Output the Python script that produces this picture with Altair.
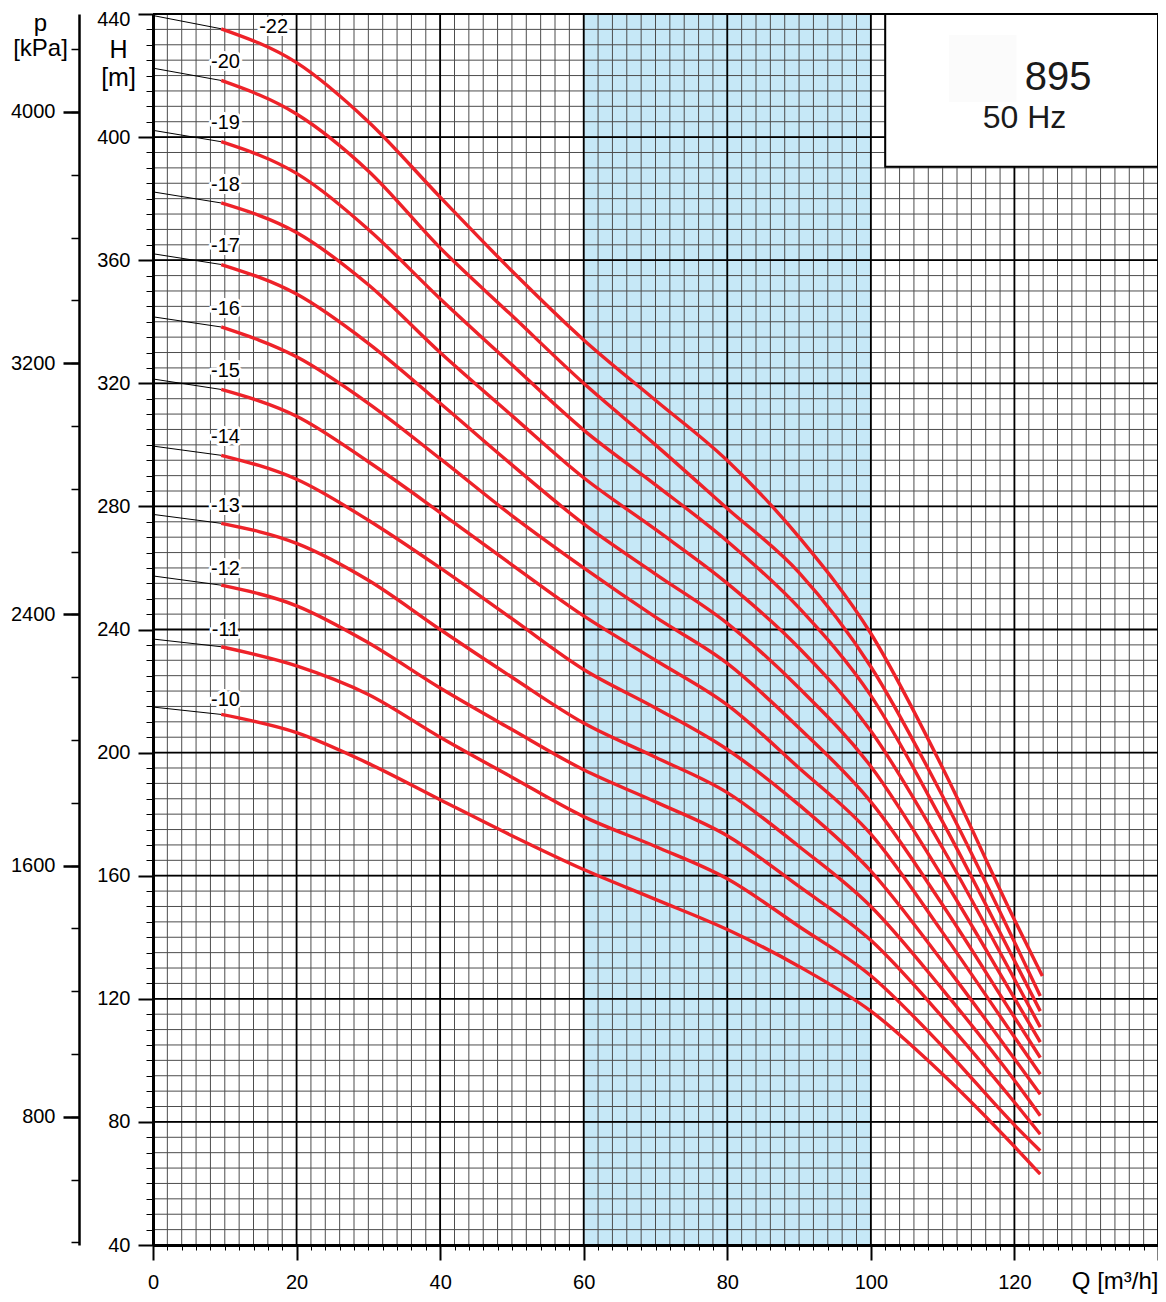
import altair as alt
import pandas as pd

# ---------------- data ----------------
stages = ["-22", "-20", "-19", "-18", "-17", "-16", "-15", "-14", "-13", "-12", "-11", "-10"]

# head at Q = 0 (thin black part of each curve)
shutoff_h = [439.5, 422.4, 402.2, 382.2, 362.1, 341.6, 321.4, 299.6, 277.4, 257.4, 236.9, 214.8]

# flow points of the red (operating) part
red_q = [9.5, 20, 30, 40, 50, 60, 70, 80, 90, 100, 110, 120]
end_q = [123.9, 123.6, 123.6, 123.6, 123.6, 123.6, 123.6, 123.6, 123.6, 123.6, 123.6, 123.6]

h_22 = [435.2, 424.2, 405.0, 380.5, 356.5, 334.1, 314.5, 294.9, 270.0, 238.7, 195.0, 145.7, 127.4]
h_20 = [418.4, 407.5, 389.0, 364.0, 342.0, 320.0, 300.0, 279.3, 258.5, 227.9, 185.8, 138.5, 120.9]
h_19 = [398.5, 388.2, 370.0, 347.5, 326.0, 304.8, 287.0, 268.7, 247.0, 218.5, 177.5, 132.4, 116.0]
h_18 = [378.6, 369.0, 352.0, 330.0, 309.5, 289.3, 272.5, 255.0, 234.0, 207.0, 169.0, 126.4, 110.8]
h_17 = [358.6, 349.0, 333.0, 313.5, 293.5, 274.3, 258.0, 242.0, 221.0, 195.5, 159.5, 120.2, 105.9]
h_16 = [338.3, 328.6, 313.5, 295.5, 277.0, 260.0, 244.0, 229.0, 208.0, 184.0, 150.5, 114.0, 100.9]
h_15 = [318.0, 309.3, 294.5, 278.0, 261.0, 244.4, 230.0, 215.5, 195.0, 173.5, 141.5, 107.6, 95.5]
h_14 = [296.6, 288.8, 275.5, 260.0, 243.5, 227.0, 214.5, 201.0, 183.0, 161.5, 132.0, 100.5, 89.0]
h_13 = [274.5, 268.0, 256.0, 240.0, 224.5, 209.6, 198.5, 187.0, 169.5, 150.0, 123.0, 93.5, 82.0]
h_12 = [254.4, 247.7, 235.7, 221.0, 207.5, 194.4, 184.0, 173.0, 156.5, 139.0, 114.0, 86.4, 76.0]
h_11 = [234.4, 228.2, 218.9, 205.0, 192.0, 179.2, 169.5, 159.0, 143.5, 127.5, 104.5, 79.0, 70.6]
h_10 = [212.4, 206.5, 196.5, 184.7, 173.0, 162.0, 152.3, 142.5, 130.5, 116.0, 95.5, 72.0, 63.0]
red_h = [h_22, h_20, h_19, h_18, h_17, h_16, h_15, h_14, h_13, h_12, h_11, h_10]

# curve labels
label_q = [16.8, 10.1, 10.1, 10.1, 10.1, 10.1, 10.1, 10.1, 10.1, 10.1, 10.1, 10.1]
label_h = [435.8, 424.5, 404.5, 384.4, 364.6, 344.1, 324.0, 302.6, 280.1, 259.8, 239.8, 217.2]

# shaded recommended range
band_q = [60, 100]

# title box
box_q = [102, 140]
box_h = [390.4, 440]
faint_q = [110.9, 120.3]
faint_h = [411.4, 433.2]
info_text = ["895", "50 Hz"]
info_q = [126.1, 121.4]
info_h = [415.3, 402.9]
info_size = [40, 32]

# grid / tick values
q_minor = list(range(0, 141, 2))
q_major = list(range(0, 141, 20))
h_minor = list(range(40, 441, 5))
h_major = list(range(40, 441, 40))
p_minor = list(range(400, 4201, 200))
p_major = [800, 1600, 2400, 3200, 4000]

# ---------------- tables ----------------
black_rows, red_rows = [], []
for s, h0, hs, qe in zip(stages, shutoff_h, red_h, end_q):
    black_rows.append({"stage": s, "Q": 0.0, "H": h0})
    black_rows.append({"stage": s, "Q": red_q[0], "H": hs[0]})
    for q, h in zip(red_q + [qe], hs):
        red_rows.append({"stage": s, "Q": q, "H": h})
black_df = pd.DataFrame(black_rows)
red_df = pd.DataFrame(red_rows)
label_df = pd.DataFrame({"stage": stages, "Q": label_q, "H": label_h})
info_df = pd.DataFrame({"t": info_text, "Q": info_q, "H": info_h, "s": info_size})

W, HGT = 1005, 1231
FONT = "Liberation Sans"
xs = alt.Scale(domain=[0, 140], nice=False, zero=False)
ys = alt.Scale(domain=[40, 440], nice=False, zero=False)
ps = alt.Scale(domain=[392, 4312], nice=False, zero=False)

X = lambda f: alt.X(f, scale=xs, axis=None)
Y = lambda f: alt.Y(f, scale=ys, axis=None)

band = alt.Chart(pd.DataFrame({"q0": [band_q[0]], "q1": [band_q[1]]})).mark_rect(
    color="#C6E8F7").encode(x=X("q0:Q"), x2="q1:Q")

x_minor_axis = alt.Axis(values=q_minor, tickSize=5, tickColor="black", tickWidth=1,
                        labels=False, domain=False, grid=False, title=None,
                        orient="bottom", offset=0)
x_major_axis = alt.Axis(values=q_major, tickSize=15, tickColor="black", tickWidth=2,
                        domainColor="black", domainWidth=3,
                        labelExpr="datum.value <= 120 ? datum.label : ''",
                        labelFont=FONT, labelFontSize=20, labelColor="black",
                        labelPadding=12, labelOverlap=False, labelFlush=False,
                        grid=False, title="Q [m³/h]", titleFont=FONT, titleFontSize=24,
                        titleFontWeight="normal", titleColor="black", titleX=W, titleY=43,
                        titleAlign="right", titleBaseline="alphabetic",
                        orient="bottom", offset=0, zindex=1)
y_minor_axis = alt.Axis(values=h_minor, tickSize=7, tickColor="black", tickWidth=1,
                        labels=False, domain=False, grid=False, title=None,
                        orient="left", offset=0)
y_major_axis = alt.Axis(values=h_major, tickSize=15, tickColor="black", tickWidth=2,
                        domainColor="black", domainWidth=3,
                        labelFont=FONT, labelFontSize=20, labelColor="black",
                        labelPadding=8, labelOverlap=False, labelFlush=False,
                        labelOffset={"condition": {"test": "datum.value === 440", "value": 5},
                                     "value": 0},
                        grid=False, title=["H", "[m]"], titleFont=FONT, titleFontSize=25,
                        titleFontWeight="normal", titleColor="black", titleAngle=0,
                        titleX=-35, titleY=43, titleAlign="center",
                        titleBaseline="alphabetic", titleLineHeight=28,
                        orient="left", offset=0, zindex=1)
p_minor_axis = alt.Axis(values=p_minor, tickSize=8, tickColor="black", tickWidth=1.5,
                        labels=False, domain=False, grid=False, title=None,
                        orient="left", offset=74)
p_major_axis = alt.Axis(values=p_major, format="d", tickSize=16, tickColor="black",
                        tickWidth=2.5, domainColor="black", domainWidth=2.5,
                        labelFont=FONT, labelFontSize=20, labelColor="black",
                        labelPadding=8, labelOverlap=False, labelFlush=False,
                        grid=False, title=["p", "[kPa]"], titleFont=FONT, titleFontSize=24,
                        titleFontWeight="normal", titleColor="black", titleAngle=0,
                        titleX=-39, titleY=16, titleAlign="center",
                        titleBaseline="alphabetic", titleLineHeight=25,
                        orient="left", offset=74, zindex=1)

v_minor = alt.Chart(pd.DataFrame({"gx": q_minor})).mark_rule(
    color="#4d4d4d", strokeWidth=1).encode(x=alt.X("gx:Q", scale=xs, axis=x_minor_axis))
h_minor_l = alt.Chart(pd.DataFrame({"gy": h_minor})).mark_rule(
    color="#4d4d4d", strokeWidth=1).encode(y=alt.Y("gy:Q", scale=ys, axis=y_minor_axis))
v_major = alt.Chart(pd.DataFrame({"gx": q_major})).mark_rule(
    color="black", strokeWidth=1.8).encode(x=alt.X("gx:Q", scale=xs, axis=x_major_axis))
h_major_l = alt.Chart(pd.DataFrame({"gy": h_major})).mark_rule(
    color="black", strokeWidth=1.8).encode(y=alt.Y("gy:Q", scale=ys, axis=y_major_axis))

box = alt.Chart(pd.DataFrame({"q0": [box_q[0]], "q1": [box_q[1]],
                              "h0": [box_h[0]], "h1": [box_h[1]]})).mark_rect(
    fill="white", stroke="black", strokeWidth=2).encode(
    x=X("q0:Q"), x2="q1:Q", y=Y("h0:Q"), y2="h1:Q")
faint = alt.Chart(pd.DataFrame({"q0": [faint_q[0]], "q1": [faint_q[1]],
                                "h0": [faint_h[0]], "h1": [faint_h[1]]})).mark_rect(
    fill="#fbfbfb").encode(x=X("q0:Q"), x2="q1:Q", y=Y("h0:Q"), y2="h1:Q")

black_lines = alt.Chart(black_df).mark_line(
    color="black", strokeWidth=1, interpolate="monotone").encode(
    x=X("Q:Q"), y=Y("H:Q"), detail="stage:N")
red_lines = alt.Chart(red_df).mark_line(
    color="#EE2229", strokeWidth=3.4, interpolate="monotone").encode(
    x=X("Q:Q"), y=Y("H:Q"), detail="stage:N", order="Q:Q")

halo = alt.Chart(label_df).mark_text(
    font=FONT, fontSize=20, align="center", baseline="middle", fill="white",
    stroke="white", strokeWidth=6, strokeJoin="round").encode(
    x=X("Q:Q"), y=Y("H:Q"), text="stage:N")
labels = alt.Chart(label_df).mark_text(
    font=FONT, fontSize=20, align="center", baseline="middle", color="black").encode(
    x=X("Q:Q"), y=Y("H:Q"), text="stage:N")

info = alt.Chart(info_df).mark_text(
    font=FONT, align="center", baseline="alphabetic", color="#1a1a1a").encode(
    x=X("Q:Q"), y=Y("H:Q"), text="t:N",
    size=alt.Size("s:Q", scale=None, legend=None))

p_minor_l = alt.Chart(pd.DataFrame({"p": p_minor})).mark_rule(opacity=0).encode(
    y=alt.Y("p:Q", scale=ps, axis=p_minor_axis))
p_major_l = alt.Chart(pd.DataFrame({"p": p_major})).mark_rule(opacity=0).encode(
    y=alt.Y("p:Q", scale=ps, axis=p_major_axis))

chart = alt.layer(
    band, v_minor, h_minor_l, v_major, h_major_l, box, faint,
    black_lines, red_lines, halo, labels, info, p_minor_l, p_major_l
).resolve_scale(y="independent").resolve_axis(x="independent", y="independent").properties(
    width=W, height=HGT,
    padding={"left": 145, "top": 6, "right": 0, "bottom": 49},
    autosize="none",
).configure_view(stroke=None)

chart.save("out.html", embed_options={"renderer": "svg", "actions": False})
